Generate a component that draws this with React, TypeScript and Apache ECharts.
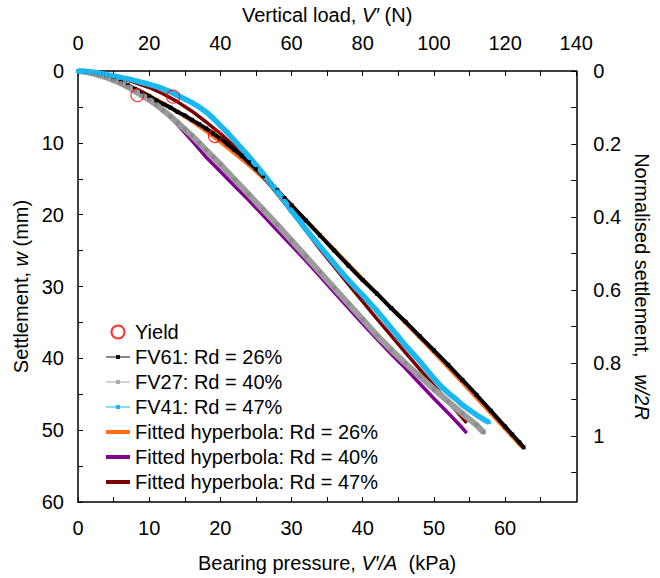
import React, { useEffect, useRef } from "react";
import * as echarts from "echarts";

// Bearing pressure (kPa) and settlement (mm)
const pFV61 = [0, 1, 2, 3, 4, 5, 6, 7, 8, 9, 10, 11, 12, 13, 14, 15, 16, 17, 18, 19, 20, 21, 22, 23, 24, 25, 26, 27, 28, 29, 30, 32, 34, 36, 38, 40, 42, 44, 46, 48, 50, 52, 54, 56, 58, 60, 61, 62, 62.6];
const wFV61 = [0, 0.1, 0.3, 0.5, 0.7, 1.1, 1.5, 2.0, 2.5, 3.0, 3.5, 4.1, 4.6, 5.1, 5.7, 6.2, 6.8, 7.4, 8.0, 8.7, 9.4, 10.2, 11.0, 11.8, 12.7, 13.6, 14.6, 15.6, 16.6, 17.7, 18.7, 20.8, 22.9, 25.0, 27.1, 29.1, 31.0, 33.0, 34.9, 36.9, 38.9, 40.9, 43.0, 45.1, 47.3, 49.5, 50.6, 51.7, 52.4];

const pFV27 = [0, 1, 2, 3, 4, 5, 6, 7, 8, 9, 10, 11, 12, 13, 14, 15, 16, 17, 18, 19, 20, 22, 24, 26, 28, 30, 32, 34, 36, 38, 40, 42, 44, 46, 48, 50, 52, 54, 56, 57];
const wFV27 = [0, 0.1, 0.3, 0.6, 0.9, 1.3, 1.7, 2.2, 2.8, 3.4, 4.0, 4.7, 5.5, 6.3, 7.2, 8.1, 9.0, 10.0, 11.0, 12.0, 13.0, 15.1, 17.2, 19.3, 21.4, 23.6, 25.8, 28.0, 30.2, 32.4, 34.6, 36.8, 38.8, 40.7, 42.5, 44.3, 46.0, 47.7, 49.3, 50.3];

const pFV41 = [0, 1, 2, 3, 4, 5, 6, 7, 8, 9, 10, 11, 12, 13, 14, 15, 16, 17, 18, 19, 20, 21, 22, 23, 24, 25, 26, 27, 28, 29, 30, 31, 32, 33, 34, 35, 36, 37, 38, 39, 40, 41, 42, 43, 44, 45, 46, 47, 48, 49, 50, 51, 52, 53, 54, 55, 56, 57, 57.7];
const wFV41 = [0, 0.05, 0.15, 0.3, 0.5, 0.7, 0.9, 1.1, 1.35, 1.6, 1.85, 2.15, 2.5, 2.9, 3.4, 3.9, 4.4, 5.0, 5.7, 6.6, 7.6, 8.6, 9.7, 10.8, 11.9, 13.1, 14.3, 15.6, 16.8, 18.1, 19.5, 20.7, 22.0, 23.2, 24.4, 25.6, 26.8, 28.0, 29.1, 30.2, 31.2, 32.3, 33.4, 34.6, 35.8, 37.0, 38.2, 39.3, 40.4, 41.6, 42.8, 43.9, 44.8, 45.6, 46.5, 47.2, 47.9, 48.5, 48.9];

const pFit26 = [0, 2, 4, 6, 8, 10, 12, 14, 16, 18, 20, 22, 24, 26, 28, 30, 34, 38, 42, 46, 50, 54, 58, 62, 62.3];
const wFit26 = [0, 0.3, 0.8, 1.5, 2.4, 3.4, 4.5, 5.7, 7.0, 8.4, 9.9, 11.5, 13.1, 14.9, 16.8, 18.7, 22.8, 26.9, 31.0, 35.1, 39.2, 43.4, 47.7, 52.0, 52.3];

const pFit40 = [0, 2, 4, 6, 8, 10, 12, 14, 16, 18, 20, 22, 24, 26, 28, 30, 32, 34, 36, 38, 40, 42, 44, 46, 48, 50, 52, 54, 54.6];
const wFit40 = [0, 0.2, 0.7, 1.5, 2.6, 3.9, 5.5, 7.5, 9.7, 12.0, 14.0, 16.0, 18.0, 20.1, 22.2, 24.3, 26.4, 28.6, 30.8, 33.0, 35.2, 37.3, 39.4, 41.4, 43.5, 45.6, 47.6, 49.7, 50.4];

const pFit47 = [0, 2, 4, 6, 8, 10, 12, 14, 16, 18, 20, 22, 24, 26, 28, 30, 34, 38, 42, 46, 50, 54, 54.6];
const wFit47 = [0, 0.2, 0.5, 1.0, 1.6, 2.3, 3.2, 4.3, 5.6, 7.1, 8.7, 10.5, 12.5, 14.7, 17.1, 19.6, 24.8, 29.7, 34.5, 39.2, 43.8, 48.3, 49.0];

const pYield = [8.35, 13.36, 19.24];
const wYield = [3.35, 3.57, 9.05];

const seriesNames = [
  "Yield",
  "FV61: Rd = 26%",
  "FV27: Rd = 40%",
  "FV41: Rd = 47%",
  "Fitted hyperbola: Rd = 26%",
  "Fitted hyperbola: Rd = 40%",
  "Fitted hyperbola: Rd = 47%",
];

const zip = (xs: number[], ys: number[]) => xs.map((x, i) => [x, ys[i]]);

const FONT = "Arial, 'Liberation Sans', sans-serif";
const FS = 20;

const ICON_DATA = "path://M0,6.25 H24 V7.25 H0 Z M10,4.75 H14 V8.75 H10 Z";
const ICON_FIT = "path://M0,0 H24 V4 H0 Z";

export default function App() {
  const ref = useRef<HTMLDivElement>(null);
  useEffect(() => {
    if (!ref.current) return;
    const chart = echarts.init(ref.current, null, { renderer: "svg" });
    const axisLine = { show: true, onZero: false, lineStyle: { color: "#000", width: 1.5 } };
    const axisTick = { show: true, inside: true, length: 5, lineStyle: { color: "#000", width: 1 } };
    const labelStyle = { fontSize: FS, color: "#000", fontFamily: FONT };
    const nameStyle = {
      fontSize: FS,
      color: "#000",
      fontFamily: FONT,
      rich: { i: { fontSize: FS, color: "#000", fontFamily: FONT, fontStyle: "italic" } },
    };
    chart.setOption({
      animation: false,
      backgroundColor: "#fff",
      grid: { left: 78, right: 68, top: 71, bottom: 76, containLabel: false },
      xAxis: [
        {
          type: "value",
          position: "bottom",
          min: 0,
          max: 70,
          interval: 5,
          axisLine,
          axisTick,
          splitLine: { show: false },
          axisLabel: {
            ...labelStyle,
            margin: 16,
            showMaxLabel: false,
            formatter: (v: number) => (v % 10 === 0 && v < 70 ? String(v) : ""),
          },
          name: "Bearing pressure, {i|V′/A}  (kPa)",
          nameLocation: "middle",
          nameGap: 51,
          nameTextStyle: nameStyle,
        },
        {
          type: "value",
          position: "top",
          min: 0,
          max: 140,
          interval: 10,
          axisLine,
          axisTick,
          splitLine: { show: false },
          axisLabel: {
            ...labelStyle,
            margin: 18,
            formatter: (v: number) => (v % 20 === 0 ? String(v) : ""),
          },
          name: "Vertical load, {i|V′} (N)",
          nameLocation: "middle",
          nameGap: 46,
          nameTextStyle: nameStyle,
        },
      ],
      yAxis: [
        {
          type: "value",
          position: "left",
          inverse: true,
          min: 0,
          max: 60,
          interval: 5,
          axisLine,
          axisTick,
          splitLine: { show: false },
          axisLabel: {
            ...labelStyle,
            margin: 14,
            formatter: (v: number) => (v % 10 === 0 ? String(v) : ""),
          },
          name: "Settlement, {i|w} (mm)",
          nameLocation: "middle",
          nameGap: 46,
          nameTextStyle: nameStyle,
        },
        {
          type: "value",
          position: "right",
          inverse: true,
          min: 0,
          max: 60 / 50.8,
          interval: 0.1,
          axisLine,
          axisTick,
          splitLine: { show: false },
          axisLabel: {
            ...labelStyle,
            margin: 17,
            showMaxLabel: false,
            formatter: (v: number) => {
              const k = Math.round(v * 10);
              return k % 2 === 0 && k <= 10 ? String(k / 10) : "";
            },
          },
          name: "Normalised settlement,   {i|w/2R}",
          nameLocation: "middle",
          nameRotate: -90,
          nameGap: 46,
          nameTextStyle: nameStyle,
        },
      ],
      legend: {
        orient: "vertical",
        left: 101,
        top: 317,
        itemWidth: 24,
        itemHeight: 13,
        itemGap: 5,
        textStyle: { fontSize: FS, color: "#000", fontFamily: FONT, lineHeight: 20 },
        data: [
          { name: seriesNames[0] },
          { name: seriesNames[1], icon: ICON_DATA, itemStyle: { color: "#111" } },
          { name: seriesNames[2], icon: ICON_DATA, itemStyle: { color: "#aaa" } },
          { name: seriesNames[3], icon: ICON_DATA, itemStyle: { color: "#1BB8F0" } },
          { name: seriesNames[4], icon: ICON_FIT },
          { name: seriesNames[5], icon: ICON_FIT },
          { name: seriesNames[6], icon: ICON_FIT },
        ],
      },
      series: [
        {
          name: seriesNames[4],
          type: "line",
          data: zip(pFit26, wFit26),
          showSymbol: false,
          symbol: "none",
          lineStyle: { color: "#FF6F0F", width: 3.5 },
          itemStyle: { color: "#FF6F0F" },
        },
        {
          name: seriesNames[5],
          type: "line",
          data: zip(pFit40, wFit40),
          showSymbol: false,
          symbol: "none",
          lineStyle: { color: "#800090", width: 3.5 },
          itemStyle: { color: "#800090" },
        },
        {
          name: seriesNames[6],
          type: "line",
          data: zip(pFit47, wFit47),
          showSymbol: false,
          symbol: "none",
          lineStyle: { color: "#7A0000", width: 3.5 },
          itemStyle: { color: "#7A0000" },
        },
        {
          name: seriesNames[1],
          type: "line",
          data: zip(pFV61, wFV61),
          symbol: "rect",
          symbolSize: 4,
          lineStyle: { color: "#000", width: 4 },
          itemStyle: { color: "#000" },
        },
        {
          name: seriesNames[2],
          type: "line",
          data: zip(pFV27, wFV27),
          symbol: "rect",
          symbolSize: 4,
          lineStyle: { color: "#9c9c9c", width: 6 },
          itemStyle: { color: "#8a8a8a" },
        },
        {
          name: seriesNames[3],
          type: "line",
          data: zip(pFV41, wFV41),
          symbol: "rect",
          symbolSize: 4,
          lineStyle: { color: "#1BB8F0", width: 5.5 },
          itemStyle: { color: "#1BB8F0" },
        },
        {
          name: seriesNames[0],
          type: "scatter",
          data: zip(pYield, wYield),
          symbol: "circle",
          symbolSize: 13,
          itemStyle: { color: "rgba(255,255,255,0)", borderColor: "#FF0000", borderWidth: 1.2 },
          z: 5,
        },
      ],
    });
    return () => chart.dispose();
  }, []);
  return <div ref={ref} style={{ position: "fixed", left: 0, top: 0, width: 660, height: 578 }} />;
}
